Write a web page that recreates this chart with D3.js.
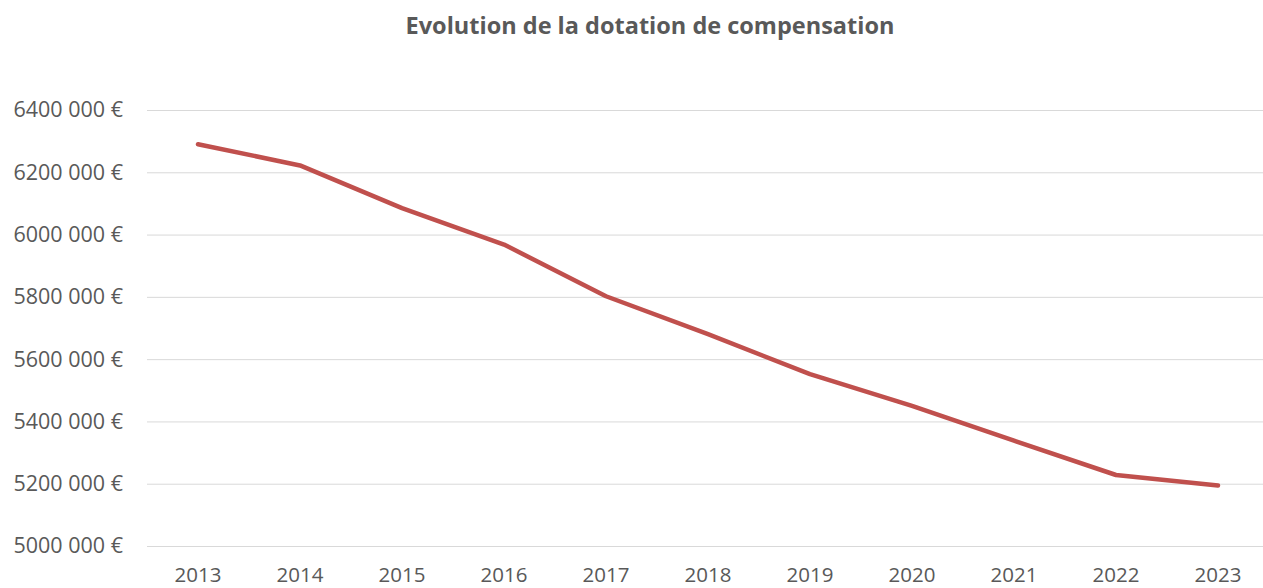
<!DOCTYPE html>
<html>
<head>
<meta charset="utf-8">
<script src="https://cdn.jsdelivr.net/npm/d3@7"></script>
<style>
  body { margin: 0; background: #fff; }
  svg text { font-family: "Open Sans", sans-serif; fill: #595959; }
</style>
</head>
<body>
<div class="chart"></div>
<script>
var years = ["2013", "2014", "2015", "2016", "2017", "2018", "2019", "2020", "2021", "2022", "2023"];
var dotation = [6290000, 6222000, 6085000, 5968000, 5802000, 5680000, 5552000, 5450000, 5338000, 5228000, 5194000];
var yTicks = [5000000, 5200000, 5400000, 5600000, 5800000, 6000000, 6200000, 6400000];
var title = "Evolution de la dotation de compensation";

var width = 1263,
    height = 588;
var margin = { top: 110, right: 0, bottom: 42, left: 147 };

var svg = d3.select(".chart")
    .append("svg")
    .attr("width", width)
    .attr("height", height);

// plot area runs a bit past the right edge (cropped in the original)
var x = d3.scaleBand()
    .domain(years)
    .range([margin.left, margin.left + 102 * years.length]);

var y = d3.scaleLinear()
    .domain([5000000, 6400000])
    .range([height - margin.bottom, margin.top]);

// format "6400 000 €" like the original
var fmt = function (v) {
    var s = String(v);
    return s.slice(0, s.length - 3) + " " + s.slice(s.length - 3) + " €";
};

svg.append("text")
    .attr("x", 650)
    .attr("y", 34)
    .attr("text-anchor", "middle")
    .style("font-size", "23.5px")
    .style("font-weight", "bold")
    .text(title);

// grid + y labels
var yAxis = svg.append("g")
    .attr("transform", "translate(" + margin.left + ",0)")
    .call(d3.axisLeft(y)
        .tickValues(yTicks)
        .tickSize(-(width - margin.left - margin.right))
        .tickPadding(24)
        .tickFormat(fmt));
yAxis.select(".domain").remove();
yAxis.selectAll(".tick line").attr("stroke", "#d9d9d9").attr("stroke-width", 1);
yAxis.selectAll(".tick text")
    .style("font-size", "21.5px")
    .attr("fill", "#595959");

var xAxis = svg.append("g")
    .attr("transform", "translate(0," + (height - margin.bottom) + ")")
    .call(d3.axisBottom(x).tickSize(0).tickPadding(21));
xAxis.select(".domain").remove();
xAxis.selectAll(".tick text")
    .style("font-size", "20.5px")
    .attr("fill", "#595959");

var line = d3.line()
    .x(function (d, i) { return x(years[i]) + x.bandwidth() / 2; })
    .y(function (d) { return y(d); });

svg.append("path")
    .datum(dotation)
    .attr("d", line)
    .attr("fill", "none")
    .attr("stroke", "#C0504D")
    .attr("stroke-width", 4.5)
    .attr("stroke-linecap", "round")
    .attr("stroke-linejoin", "round");
</script>
</body>
</html>
